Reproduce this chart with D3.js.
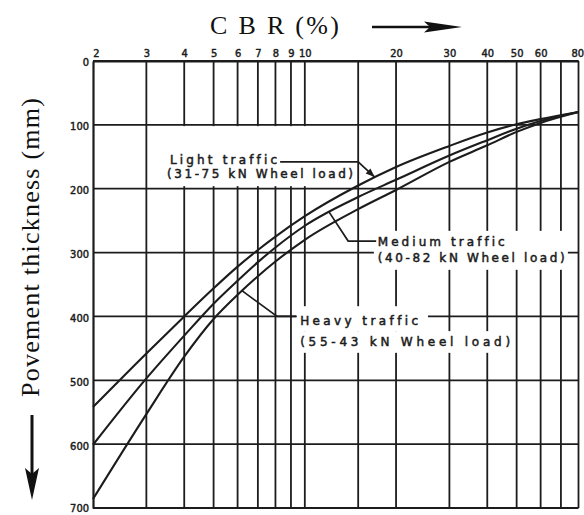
<!DOCTYPE html>
<html>
<head>
<meta charset="utf-8">
<script src="https://cdn.jsdelivr.net/npm/d3@7"></script>
<style>
  body { margin: 0; background: #fff; }
  svg { display: block; }
  text { font-variant-ligatures: none; }
</style>
</head>
<body>
<svg id="chart" width="584" height="515"></svg>
<script>
// ---- data ----
const cbrTicks = [2, 3, 4, 5, 6, 7, 8, 9, 10, 20, 30, 40, 50, 60, 80];
const cbrGrid = [3, 4, 5, 6, 7, 8, 9, 10, 15, 20, 30, 40, 50, 60, 70, 80];
const thicknessTicks = [0, 100, 200, 300, 400, 500, 600, 700];

const cbrPoints     = [2,   3,   4,   5,   6,   7,   8,   10,  15,  20,  30,  40,  50,  60, 80];
const lightTraffic  = [542, 458, 400, 356, 322, 296, 275, 243, 195, 166, 133, 112, 99,  91, 80];
const mediumTraffic = [601, 497, 430, 380, 344, 315, 292, 258, 213, 186, 148, 124, 106, 94, 80];
const heavyTraffic  = [686, 553, 463, 404, 366, 337, 314, 280, 232, 202, 158, 132, 111, 97, 80];

const lightLabel  = ["Light traffic",  "(31-75 kN Wheel load)"];
const mediumLabel = ["Medium traffic", "(40-82 kN Wheel load)"];
const heavyLabel  = ["Heavy traffic",  "(55-43 kN Wheel load)"];

// ---- layout ----
const ink = "#1c1c1c";
const svg = d3.select("#chart");

const x = d3.scaleLog().domain([2, 80]).range([93, 578.5]);
const y = d3.scaleLinear().domain([0, 700]).range([61, 508]);

// grid
const grid = svg.append("g").attr("stroke", ink).attr("stroke-width", 1.8);
grid.selectAll("line.v").data(cbrGrid).join("line")
  .attr("class", "v")
  .attr("x1", d => x(d)).attr("x2", d => x(d))
  .attr("y1", y(0)).attr("y2", y(700));
grid.selectAll("line.h").data(thicknessTicks).join("line")
  .attr("class", "h")
  .attr("x1", x(2)).attr("x2", x(80))
  .attr("y1", d => y(d)).attr("y2", d => y(d));

// white panels behind the annotation lettering (in data units)
const panels = [
  { c0: 3.08, c1: 14.8, t0: 102, t1: 196 },
  { c0: 16.9, c1: 73.8, t0: 266, t1: 327 },
  { c0: 9.37, c1: 25.5, t0: 384, t1: 423 },
  { c0: 9.37, c1: 48.9, t0: 423, t1: 457 }
];
svg.append("g").selectAll("rect").data(panels).join("rect")
  .attr("x", d => x(d.c0)).attr("width", d => x(d.c1) - x(d.c0))
  .attr("y", d => y(d.t0)).attr("height", d => y(d.t1) - y(d.t0))
  .attr("fill", "#fff");

// axes
const topAxis = d3.axisTop(x).tickValues(cbrTicks).tickFormat(d3.format("d"))
  .tickSize(0).tickSizeOuter(0).tickPadding(4);
const gTop = svg.append("g").attr("transform", `translate(0,${y(0)})`).call(topAxis);
const leftAxis = d3.axisLeft(y).tickValues(thicknessTicks).tickFormat(d3.format("d"))
  .tickSize(0).tickSizeOuter(0).tickPadding(4);
const gLeft = svg.append("g").attr("transform", `translate(${x(2)},0)`).call(leftAxis);

[gTop, gLeft].forEach(g => {
  g.select(".domain").attr("stroke", ink).attr("stroke-width", 2.2);
  g.selectAll(".tick text")
    .attr("fill", ink)
    .attr("stroke", ink).attr("stroke-width", 0.45)
    .style("font-family", "'DejaVu Sans Condensed', 'DejaVu Sans', sans-serif")
    .style("font-size", "11px");
});
gTop.selectAll(".tick text").filter(d => d === 2).attr("dx", 3);
gTop.selectAll(".tick text").filter(d => d === 80).attr("text-anchor", "end").attr("dx", 5);
gLeft.selectAll(".tick text").attr("dy", "0.45em");
gLeft.selectAll(".tick text").filter(d => d === 700).attr("dy", "0.3em");

// curves
const line = d3.line()
  .x((d, i) => x(cbrPoints[i]))
  .y(d => y(d))
  .curve(d3.curveMonotoneX);

const series = [lightTraffic, mediumTraffic, heavyTraffic];
const paths = svg.append("g").selectAll("path").data(series).join("path")
  .attr("d", line)
  .attr("fill", "none")
  .attr("stroke", ink)
  .attr("stroke-width", 2.1);

function pointAt(node, px) {
  let lo = 0, hi = node.getTotalLength();
  for (let k = 0; k < 40; k++) {
    const mid = (lo + hi) / 2;
    if (node.getPointAtLength(mid).x < px) lo = mid; else hi = mid;
  }
  return node.getPointAtLength((lo + hi) / 2);
}
const [lightNode, mediumNode, heavyNode] = paths.nodes();

// annotations
const note = svg.append("g").attr("fill", ink)
  .style("font-family", "'DejaVu Sans', sans-serif")
  .style("font-size", "12px");

function label(text, c, t, len) {
  note.append("text")
    .attr("x", x(c)).attr("y", y(t))
    .attr("textLength", len).attr("lengthAdjust", "spacing")
    .attr("stroke", ink).attr("stroke-width", 0.5)
    .text(text);
}
function leader(pts) {
  note.append("path")
    .attr("d", d3.line()(pts))
    .attr("fill", "none").attr("stroke", ink).attr("stroke-width", 1.7);
}

// light traffic
label(lightLabel[0], 3.59, 161, 107);
label(lightLabel[1], 3.51, 183, 186);
const tipL = pointAt(lightNode, x(17));
const elbowL = [x(15), y(158)];
leader([[x(8.29), y(158)], elbowL, [tipL.x, tipL.y]]);
{
  const dx = tipL.x - elbowL[0], dy = tipL.y - elbowL[1];
  const len = Math.hypot(dx, dy), ux = dx / len, uy = dy / len;
  const bx = tipL.x - ux * 9, by = tipL.y - uy * 9;
  note.append("path")
    .attr("d", `M${tipL.x},${tipL.y}L${bx - uy * 3.5},${by + ux * 3.5}L${bx + uy * 3.5},${by - ux * 3.5}Z`)
    .attr("fill", ink);
}

// medium traffic
label(mediumLabel[0], 17.4, 289, 127);
label(mediumLabel[1], 17.4, 314, 187);
const startM = pointAt(mediumNode, x(12));
leader([[startM.x, startM.y], [x(13.9), y(282)], [x(17.2), y(282)]]);

// heavy traffic
label(heavyLabel[0], 9.65, 414, 118);
label(heavyLabel[1], 9.65, 446, 210);
const startH = pointAt(heavyNode, x(6.2));
leader([[startH.x, startH.y], [x(8.1), y(400)], [x(9.4), y(400)]]);

// axis titles
svg.append("text")
  .attr("x", 210).attr("y", 34)
  .attr("textLength", 129).attr("lengthAdjust", "spacing")
  .style("font-family", "'Liberation Serif', 'Times New Roman', serif")
  .style("font-size", "26px")
  .attr("fill", "#111")
  .text("C B R (%)");
svg.append("line")
  .attr("x1", 372).attr("x2", 430).attr("y1", 27).attr("y2", 27)
  .attr("stroke", "#111").attr("stroke-width", 2.5);
svg.append("path")
  .attr("d", "M424,21.5L462,27L424,32.5L430,27Z")
  .attr("fill", "#111");

svg.append("text")
  .attr("transform", "translate(39,247.5) rotate(-90)")
  .attr("text-anchor", "middle")
  .attr("textLength", 299).attr("lengthAdjust", "spacing")
  .style("font-family", "'Liberation Serif', 'Times New Roman', serif")
  .style("font-size", "26px")
  .attr("fill", "#111")
  .text("Povement thickness (mm)");
svg.append("line")
  .attr("x1", 32).attr("x2", 32).attr("y1", 415).attr("y2", 476)
  .attr("stroke", "#111").attr("stroke-width", 3);
svg.append("path")
  .attr("d", "M25,468L32,500L39,468L32,474Z")
  .attr("fill", "#111");
</script>
</body>
</html>
